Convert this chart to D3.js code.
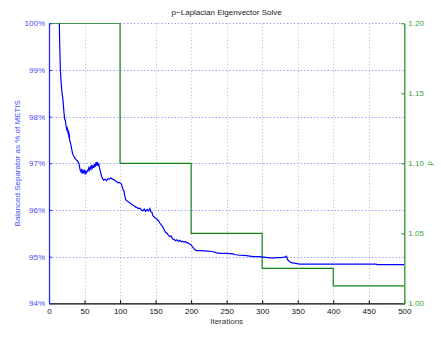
<!DOCTYPE html>
<html><head><meta charset="utf-8">
<script src="https://cdn.jsdelivr.net/npm/d3@7"></script>
<style>body{margin:0;background:#fff}svg text{font-family:"Liberation Sans",Arial,Helvetica,sans-serif}</style>
</head><body>
<svg id="c" width="441" height="338"></svg>
<script>
const xTicks=[0,50,100,150,200,250,300,350,400,450,500];
const leftTicks=[94,95,96,97,98,99,100];
const rightTicks=[1.00,1.05,1.10,1.15,1.20];
const sepIter=[14,15,16,17,18,19.5,21,22,23,24,25,26,27,27.5,28,28.5,29,30,31,32,33,34,36,38,40,42,43,44,45,46,47,48,49,50,51,52,53,54,55,56,57,58,59,60,61,62,63,64,65,66,67,68,69,70,71,72,73,74,75,77,79,81,83,85,87,89,91,93,95,97,99,101,102,103,104,105.5,107,108,110,112,114,116,118,120,122,124,126,128,130,132,134,136,138,140,142,143,145,146,148,150,152,154,156,158,160,162,164,166,168,170,172,174,176,178,180,182,184,186,188,190,192,194,196,198,200,202,204,206,208,215,222,230,236,240,250,259,262,269,278,287,295,302,308,315,320,326,332,334,336,338,341,345,353,400,460,462,500];
const sepVal=[100.5,99.6,99.0,98.75,98.55,98.38,98.1,97.95,97.92,97.8,97.72,97.75,97.62,97.7,97.55,97.64,97.5,97.45,97.38,97.3,97.22,97.18,97.12,97.08,97.05,97.0,96.92,96.85,96.82,96.88,96.78,96.84,96.8,96.86,96.78,96.82,96.8,96.85,96.84,96.9,96.86,96.92,96.88,96.94,96.9,96.96,96.9,96.98,96.92,97.02,96.95,97.03,96.96,96.98,96.9,96.85,96.78,96.72,96.68,96.64,96.66,96.63,96.67,96.66,96.69,96.66,96.65,96.63,96.61,96.58,96.59,96.57,96.55,96.5,96.45,96.4,96.28,96.22,96.19,96.17,96.15,96.13,96.1,96.09,96.06,96.05,96.03,96.04,96.0,95.98,96.02,95.97,96.01,95.98,96.03,95.96,95.95,95.88,95.85,95.82,95.8,95.77,95.72,95.68,95.64,95.58,95.52,95.5,95.46,95.43,95.44,95.38,95.37,95.34,95.36,95.33,95.35,95.32,95.33,95.31,95.32,95.3,95.29,95.27,95.25,95.21,95.17,95.14,95.13,95.13,95.12,95.11,95.08,95.07,95.07,95.06,95.04,95.03,95.02,95.0,95.0,94.99,94.98,94.97,94.98,94.98,94.99,95.01,94.93,94.9,94.87,94.86,94.84,94.84,94.84,94.83,94.83];
const pIter=[0,100,200,300,400,500];
const pVal=[1.2,1.1,1.05,1.025,1.0125,1.0125];

const L=49,R=404.3,T=23.3,B=303.3;
const svg=d3.select("#c");
const x=d3.scaleLinear().domain([0,500]).range([L,R]);
const yL=d3.scaleLinear().domain([94,100]).range([B,T]);
const yR=d3.scaleLinear().domain([1.0,1.2]).range([B,T]);

svg.append("defs").append("clipPath").attr("id","clp").append("rect")
  .attr("x",L).attr("y",T).attr("width",R-L).attr("height",B-T);

// grid
const g=svg.append("g");
g.selectAll(".vg").data(xTicks.slice(1,-1)).enter().append("line")
  .attr("x1",d=>Math.round(x(d))+0.5).attr("x2",d=>Math.round(x(d))+0.5)
  .attr("y1",T).attr("y2",B).attr("stroke","#aaa").attr("stroke-width",0.8).attr("stroke-dasharray","1,2.4");
g.selectAll(".hg").data(leftTicks.slice(1)).enter().append("line")
  .attr("x1",L).attr("x2",R).attr("y1",d=>Math.round(yL(d))+0.5).attr("y2",d=>Math.round(yL(d))+0.5)
  .attr("stroke","#8c8cff").attr("stroke-width",1).attr("stroke-dasharray","1.2,2.2");

// p line
const pts=pIter.map((d,i)=>[d,pVal[i]]);
svg.append("path").datum(pts).attr("clip-path","url(#clp)")
  .attr("d",d3.line().x(d=>x(d[0])).y(d=>yR(d[1])).curve(d3.curveStepAfter))
  .attr("fill","none").attr("stroke","#128212").attr("stroke-width",1.2);

// separator line
const sp=sepIter.map((d,i)=>[d,sepVal[i]]);
svg.append("path").datum(sp).attr("clip-path","url(#clp)")
  .attr("d",d3.line().x(d=>x(d[0])).y(d=>yL(d[1])))
  .attr("fill","none").attr("stroke","#0000ff").attr("stroke-width",1.2);

// axes
const fs="8px";
const xa=d3.axisBottom(x).tickValues(xTicks).tickSizeInner(-3).tickSizeOuter(0).tickPadding(5);
const xg=svg.append("g").attr("transform",`translate(0,${B})`).call(xa);
xg.select(".domain").attr("stroke","#000").attr("stroke-width",1.3);
xg.selectAll("line").attr("stroke","#000");
xg.selectAll("text").attr("font-size",fs).attr("fill","#111");

const la=d3.axisLeft(yL).tickValues(leftTicks).tickFormat(d=>d+"%").tickSizeInner(-3).tickSizeOuter(0).tickPadding(4);
const lg=svg.append("g").attr("transform",`translate(${L},0)`).call(la);
lg.select(".domain").attr("stroke","#2a2aff").attr("stroke-width",1.3);
lg.selectAll("line").attr("stroke","#2a2aff");
lg.selectAll("text").attr("font-size",fs).attr("fill","#4a4aff");

const ra=d3.axisRight(yR).tickValues(rightTicks).tickFormat(d3.format(".2f")).tickSizeInner(-3).tickSizeOuter(0).tickPadding(4);
const rg=svg.append("g").attr("transform",`translate(${R},0)`).call(ra);
rg.select(".domain").attr("stroke","#3c9a3c").attr("stroke-width",1.4);
rg.selectAll("line").attr("stroke","#2e8b2e");
rg.selectAll("text").attr("font-size",fs).attr("fill","#3aa53a");

// labels
svg.append("text").attr("x",(L+R)/2).attr("y",15).attr("text-anchor","middle")
  .attr("font-size","8px").attr("fill","#222").text("p\u2212Laplacian Eigenvector Solve");
svg.append("text").attr("x",(L+R)/2).attr("y",324).attr("text-anchor","middle")
  .attr("font-size","8px").attr("fill","#333").text("Iterations");
svg.append("text").attr("transform",`translate(20,${(T+B)/2}) rotate(-90)`).attr("text-anchor","middle")
  .attr("font-size","8px").attr("fill","#4a4aff").text("Balanced Separator as % of METIS");
svg.append("text").attr("transform",`translate(432,${(T+B)/2}) rotate(-90)`).attr("text-anchor","middle")
  .attr("font-size","8px").attr("fill","#3aa53a").text("p");
</script>
</body></html>
